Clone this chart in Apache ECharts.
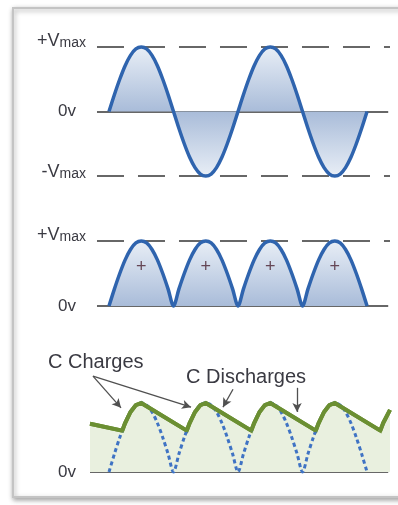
<!DOCTYPE html>
<html><head><meta charset="utf-8">
<script src="https://cdn.jsdelivr.net/npm/echarts@6/dist/echarts.min.js"></script>
<style>html,body{margin:0;padding:0;background:#fff}#c{width:398px;height:505px}</style>
</head><body><div id="c"></div><script>
// phase in degrees of the input AC waveform
const phaseDeg = [0,15,30,45,60,75,90,105,120,135,150,165,180,195,210,225,240,255,270,285,300,315,330,345,360,375,390,405,420,435,450,465,480,495,510,525,540,555,570,585,600,615,630,645,660,675,690,705,720];
// AC input (fraction of Vmax)
const acVolts = [0,0.26,0.5,0.71,0.87,0.97,1,0.97,0.87,0.71,0.5,0.26,0,-0.26,-0.5,-0.71,-0.87,-0.97,-1,-0.97,-0.87,-0.71,-0.5,-0.26,0,0.26,0.5,0.71,0.87,0.97,1,0.97,0.87,0.71,0.5,0.26,0,-0.26,-0.5,-0.71,-0.87,-0.97,-1,-0.97,-0.87,-0.71,-0.5,-0.26,0];
// full-wave rectified output
const rectVolts = [0,0.26,0.5,0.71,0.87,0.97,1,0.97,0.87,0.71,0.5,0.26,0,0.26,0.5,0.71,0.87,0.97,1,0.97,0.87,0.71,0.5,0.26,0,0.26,0.5,0.71,0.87,0.97,1,0.97,0.87,0.71,0.5,0.26,0,0.26,0.5,0.71,0.87,0.97,1,0.97,0.87,0.71,0.5,0.26,0];
// smoothed (capacitor) output
const ripplePhase = [-53,37,45,60,75,90,217,225,240,255,270,397,405,420,435,450,577,585,600,615,630,757,765,784];
const rippleVolts = [0.70,0.60,0.71,0.87,0.97,1.0,0.60,0.71,0.87,0.97,1.0,0.60,0.71,0.87,0.97,1.0,0.60,0.71,0.87,0.97,1.0,0.60,0.71,0.90];
// "+" marks inside rectified humps
const plusPhase = [90,270,450,630];
const plusLevel = [0.6,0.6,0.6,0.6];
// level tick labels
const levelValues = [-1,0,1];
const levelMain = ['-V','0v','+V'];
const levelSub = ['max','','max'];
// annotations
const annoText = ['C Charges','C Discharges'];
const arrowFrom = [[-44.7,1.39],[-44.7,1.39],[346,1.20],[524.7,1.22]];
const arrowTo = [[33.5,0.93],[228.9,0.94],[318,0.94],[524.7,0.87]];

const XMIN=-53, XMAX=784, LSTART=-33.5, LEND=779;
const TXT='#3a3a42', AX='#676767', BLUE='#2f64ae', GREEN='#6b8f32';
const FONT='"Liberation Sans", Arial, sans-serif';

function labelFmt(v){
  const i = levelValues.indexOf(v);
  if (i < 0) return '';
  if (v === 0) return '{z|' + levelMain[i] + '}';
  return '{v|' + levelMain[i] + '}{m|' + levelSub[i] + '}\n{' + (v > 0 ? 'sp' : 'sq') + '| }';
}
const rich = {
  v:{fontSize:18, lineHeight:20, verticalAlign:'bottom', color:TXT, fontFamily:FONT},
  m:{fontSize:14, lineHeight:20, verticalAlign:'bottom', color:TXT, fontFamily:FONT},
  z:{fontSize:17, color:TXT, fontFamily:FONT, padding:[0,10,0,0]},
  sp:{fontSize:2, lineHeight:14},
  sq:{fontSize:2, lineHeight:9}
};
function yAx(idx, min, max, only0){
  return {gridIndex:idx, type:'value', min:min, max:max, interval: only0 ? 0.5 : 1,
    axisLine:{show:false}, axisTick:{show:false}, splitLine:{show:false},
    axisLabel:{margin:4, formatter: only0 ? (v => v===0 ? '{z|0v}' : '') : labelFmt, rich:rich}};
}
function xAx(idx){ return {gridIndex:idx, type:'value', min:XMIN, max:XMAX, show:false}; }
function hLine(y, x0, dashed){
  return [{coord:[x0,y], lineStyle:{color:AX, width:2, type: dashed ? [27,14] : 'solid'}},{coord:[LEND+ (dashed?5:0),y]}];
}
const blueGrad1 = new echarts.graphic.LinearGradient(0,0,0,1,[
  {offset:0,color:'#e8eef6'},{offset:0.5,color:'#a9bcd9'},{offset:1,color:'#e8eef6'}]);
const blueGrad2 = new echarts.graphic.LinearGradient(0,0,0,1,[
  {offset:0,color:'#e8eef6'},{offset:1,color:'#a9bcd9'}]);

const chart = echarts.init(document.getElementById('c'), null, {renderer:'canvas'});
chart.setOption({
  animation:false,
  backgroundColor:'#fff',
  grid:[
    {left:90, right:8, top:47, height:129},
    {left:90, right:8, top:241, height:65},
    {left:90, right:8, top:368.5, height:103.5}
  ],
  xAxis:[xAx(0), xAx(1), xAx(2)],
  yAxis:[yAx(0,-1,1,false), yAx(1,0,1,false), yAx(2,0,1.5,true)],
  graphic:[
    {type:'rect', z:-10, silent:true, shape:{x:13,y:8,width:420,height:489},
     style:{fill:'#fff', stroke:'#c4c4c4', lineWidth:2, shadowBlur:5, shadowColor:'rgba(0,0,0,0.35)', shadowOffsetX:1, shadowOffsetY:2}},
    {type:'text', left:48, top:352, style:{text:annoText[0], font:'20px '+FONT, fill:TXT}},
    {type:'text', left:186, top:367, style:{text:annoText[1], font:'20px '+FONT, fill:TXT}}
  ],
  series:[
    {type:'line', xAxisIndex:0, yAxisIndex:0, clip:false, symbol:'none', smooth:0.3,
     data: phaseDeg.map((p,i)=>[p, acVolts[i]]),
     lineStyle:{color:BLUE, width:3.5}, areaStyle:{color:blueGrad1, opacity:1, origin:0}, z:3,
     markLine:{silent:true, symbol:'none', label:{show:false}, z:1,
       data:[hLine(1,LSTART,true), hLine(-1,LSTART,true), hLine(0,LSTART,false)]}},
    {type:'line', xAxisIndex:1, yAxisIndex:1, clip:false, symbol:'none', smooth:0.3,
     data: phaseDeg.map((p,i)=>[p, rectVolts[i]]),
     lineStyle:{color:BLUE, width:3.5}, areaStyle:{color:blueGrad2, opacity:1, origin:0}, z:3,
     markLine:{silent:true, symbol:'none', label:{show:false}, z:1,
       data:[hLine(1,LSTART,true), hLine(0,LSTART,false)]}},
    {type:'scatter', xAxisIndex:1, yAxisIndex:1, symbolSize:0, z:4,
     data: plusPhase.map((p,i)=>[p, plusLevel[i]]),
     label:{show:true, position:'inside', formatter:'+', fontSize:18, color:'#4a2030', fontFamily:FONT}},
    {type:'line', xAxisIndex:2, yAxisIndex:2, clip:false, symbol:'none', z:3,
     data: ripplePhase.map((p,i)=>[p, rippleVolts[i]]),
     lineStyle:{color:GREEN, width:4, join:'miter'}, areaStyle:{color:'#e9f0df', opacity:1, origin:0},
     markLine:{silent:true, symbol:'none', label:{show:false}, z:1,
       data:[hLine(0,XMIN,false)]}},
    {type:'line', xAxisIndex:2, yAxisIndex:2, clip:false, symbol:'none', smooth:0.3, z:4,
     data: phaseDeg.map((p,i)=>[p, rectVolts[i]]),
     lineStyle:{color:'#3f73c4', width:3, type:[4,3]},
     markLine:{silent:true, symbol:['none','arrow'], symbolSize:[7,9], label:{show:false},
       lineStyle:{color:'#505050', width:1.3, type:'solid'},
       data: arrowFrom.map((f,i)=>[{coord:f},{coord:arrowTo[i]}])}},
    {type:'line', xAxisIndex:2, yAxisIndex:2, clip:false, symbol:'none', z:5,
     data: ripplePhase.map((p,i)=>[p, rippleVolts[i]]),
     lineStyle:{color:GREEN, width:4}}
  ]
});
</script></body></html>
